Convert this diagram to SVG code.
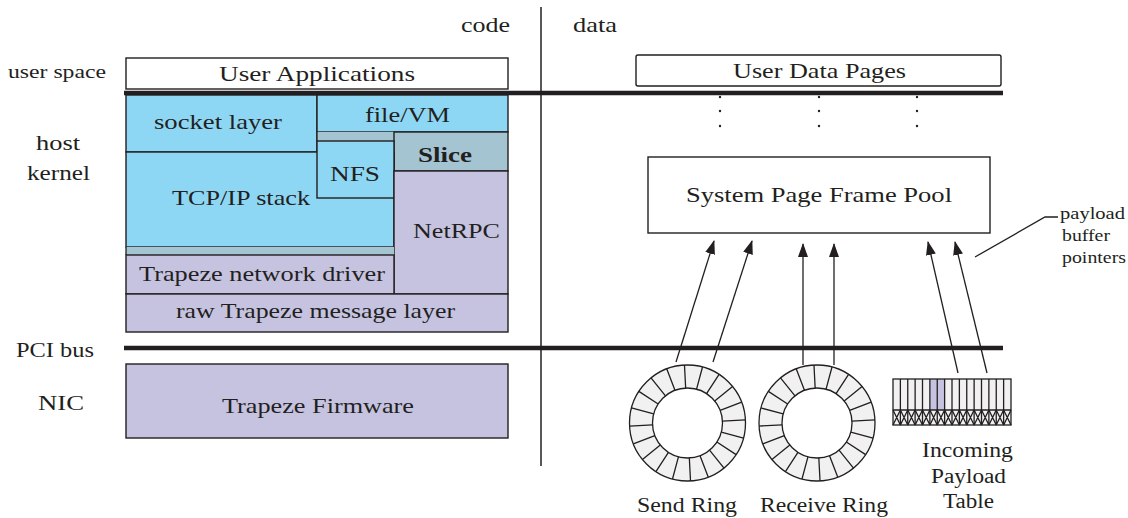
<svg xmlns="http://www.w3.org/2000/svg" width="1128" height="518" viewBox="0 0 1128 518">
<style>
text{font-family:"Liberation Serif","Times New Roman",serif;fill:#231f20}
.box{stroke:#231f20;stroke-width:1.4}
.blue{fill:#8dd7f5}
.grey{fill:#a4c4d2}
.lav{fill:#c6c3e1}
.white{fill:#ffffff}
.bus{stroke:#231f20;stroke-width:4.5}
.thin{stroke:#231f20;stroke-width:1.3;fill:none}
.arrow{stroke:#231f20;stroke-width:1.3;fill:none;marker-end:url(#ah)}
</style>
<defs>
<marker id="ah" viewBox="0 0 14 10" refX="13" refY="5" markerWidth="14" markerHeight="10" markerUnits="userSpaceOnUse" orient="auto">
<path d="M0,0 L14,5 L0,10 z" fill="#231f20"/>
</marker>
<g id="ring">
<circle r="46.5" fill="none" stroke="#f1f1f1" stroke-width="23"/>
<circle r="58" class="thin"/>
<circle r="35" class="thin"/>
<path class="thin" d="M-1.83,-34.95L-3.03,-57.92M9.06,-33.81L15.01,-56.02M19.06,-29.35L31.59,-48.64M27.20,-22.03L45.07,-36.50M32.68,-12.54L54.15,-20.79M34.95,-1.83L57.92,-3.03M33.81,9.06L56.02,15.01M29.35,19.06L48.64,31.59M22.03,27.20L36.50,45.07M12.54,32.68L20.79,54.15M1.83,34.95L3.03,57.92M-9.06,33.81L-15.01,56.02M-19.06,29.35L-31.59,48.64M-27.20,22.03L-45.07,36.50M-32.68,12.54L-54.15,20.79M-34.95,1.83L-57.92,3.03M-33.81,-9.06L-56.02,-15.01M-29.35,-19.06L-48.64,-31.59M-22.03,-27.20L-36.50,-45.07M-12.54,-32.68L-20.79,-54.15"/>
</g>
</defs>
<rect width="1128" height="518" fill="#ffffff"/>

<g id="labels">
<text x="461" y="32" font-size="22" textLength="49" lengthAdjust="spacingAndGlyphs">code</text>
<text x="573" y="32" font-size="22" textLength="44" lengthAdjust="spacingAndGlyphs">data</text>
<text x="8" y="78" font-size="18" textLength="98" lengthAdjust="spacingAndGlyphs">user space</text>
<text x="36" y="150" font-size="20" textLength="44" lengthAdjust="spacingAndGlyphs">host</text>
<text x="27" y="180" font-size="20" textLength="63" lengthAdjust="spacingAndGlyphs">kernel</text>
<text x="16" y="357" font-size="20" textLength="78" lengthAdjust="spacingAndGlyphs">PCI bus</text>
<text x="38" y="410" font-size="20" textLength="46" lengthAdjust="spacingAndGlyphs">NIC</text>
</g>

<line x1="541" y1="7" x2="541" y2="466" stroke="#231f20" stroke-width="1.5"/>

<g id="user-applications">
<rect x="126" y="58" width="382" height="31" class="box white"/>
<text x="219" y="81" font-size="22" textLength="196" lengthAdjust="spacingAndGlyphs">User Applications</text>
</g>
<g id="user-data-pages">
<rect x="636" y="55" width="365" height="31" rx="2" class="box white"/>
<text x="733" y="78" font-size="22" textLength="173" lengthAdjust="spacingAndGlyphs">User Data Pages</text>
</g>

<g id="buses">
<line x1="124" y1="93" x2="1003" y2="93" class="bus"/>
<line x1="124" y1="348" x2="1003" y2="348" class="bus" stroke-width="5"/>
</g>

<g id="dots" fill="#231f20">
<circle cx="720" cy="97" r="1.2"/><circle cx="720" cy="111" r="1.2"/><circle cx="720" cy="126" r="1.2"/>
<circle cx="819" cy="97" r="1.2"/><circle cx="819" cy="111" r="1.2"/><circle cx="819" cy="126" r="1.2"/>
<circle cx="917" cy="97" r="1.2"/><circle cx="917" cy="111" r="1.2"/><circle cx="917" cy="126" r="1.2"/>
</g>

<g id="socket-layer">
<rect x="126" y="95" width="191" height="57" class="box blue"/>
<text x="154" y="129" font-size="21" textLength="128" lengthAdjust="spacingAndGlyphs">socket layer</text>
</g>
<g id="file-vm">
<rect x="317" y="95" width="191" height="37" class="box blue"/>
<text x="365" y="122" font-size="21" textLength="85" lengthAdjust="spacingAndGlyphs">file/VM</text>
</g>
<g id="slice">
<rect x="317" y="132" width="191" height="9" class="grey"/>
<rect x="394" y="132" width="114" height="39" class="box grey"/>
<line x1="317" y1="132" x2="317" y2="141" class="thin"/>
<text x="418" y="162" font-size="21" font-weight="bold" textLength="54" lengthAdjust="spacingAndGlyphs">Slice</text>
</g>
<g id="tcp-ip-stack">
<rect x="126" y="152" width="268" height="95" class="box blue"/>
<text x="172" y="205" font-size="21" textLength="138" lengthAdjust="spacingAndGlyphs">TCP/IP stack</text>
</g>
<g id="nfs">
<rect x="317" y="141" width="77" height="57" class="box blue"/>
<text x="330" y="181" font-size="21" textLength="50" lengthAdjust="spacingAndGlyphs">NFS</text>
</g>
<g id="netrpc">
<rect x="394" y="171" width="114" height="123" class="box lav"/>
<text x="413" y="238" font-size="21" textLength="87" lengthAdjust="spacingAndGlyphs">NetRPC</text>
</g>
<g id="trapeze-network-driver">
<rect x="126" y="247" width="268" height="8" class="grey"/>
<line x1="126" y1="247" x2="126" y2="255" class="thin"/>
<rect x="126" y="255" width="268" height="39" class="box lav"/>
<text x="139" y="281" font-size="21" textLength="246" lengthAdjust="spacingAndGlyphs">Trapeze network driver</text>
</g>
<g id="raw-trapeze-message-layer">
<rect x="126" y="294" width="382" height="38" class="box lav"/>
<text x="176" y="318" font-size="21" textLength="279" lengthAdjust="spacingAndGlyphs">raw Trapeze message layer</text>
</g>
<g id="trapeze-firmware">
<rect x="126" y="364" width="382" height="74" class="box lav"/>
<text x="222" y="413" font-size="21" textLength="192" lengthAdjust="spacingAndGlyphs">Trapeze Firmware</text>
</g>

<g id="system-page-frame-pool">
<rect x="648" y="157" width="342" height="76" class="box white"/>
<text x="686" y="202" font-size="21" textLength="266" lengthAdjust="spacingAndGlyphs">System Page Frame Pool</text>
</g>

<g id="send-ring">
<use href="#ring" x="687.5" y="423"/>
<text x="637" y="512" font-size="20" textLength="100" lengthAdjust="spacingAndGlyphs">Send Ring</text>
</g>
<g id="receive-ring">
<use href="#ring" x="817" y="423"/>
<text x="760" y="512" font-size="20" textLength="128" lengthAdjust="spacingAndGlyphs">Receive Ring</text>
</g>

<g id="incoming-payload-table">
<rect x="893" y="379" width="118" height="46" fill="#f1f1f1"/>
<rect x="929.875" y="379" width="14.75" height="31" class="lav"/>
<rect x="893" y="379" width="118" height="46" class="thin"/>
<line x1="893" y1="410" x2="1011" y2="410" class="thin"/>
<path class="thin" stroke-width="1" d="M900.375,379V425M907.75,379V425M915.125,379V425M922.5,379V425M929.875,379V425M937.25,379V425M944.625,379V425M952,379V425M959.375,379V425M966.75,379V425M974.125,379V425M981.5,379V425M988.875,379V425M996.25,379V425M1003.625,379V425"/>
<path class="thin" stroke-width="0.9" d="M893,410L900.375,425M893,425L900.375,410M900.375,410L907.75,425M900.375,425L907.75,410M907.75,410L915.125,425M907.75,425L915.125,410M915.125,410L922.5,425M915.125,425L922.5,410M922.5,410L929.875,425M922.5,425L929.875,410M929.875,410L937.25,425M929.875,425L937.25,410M937.25,410L944.625,425M937.25,425L944.625,410M944.625,410L952,425M944.625,425L952,410M952,410L959.375,425M952,425L959.375,410M959.375,410L966.75,425M959.375,425L966.75,410M966.75,410L974.125,425M966.75,425L974.125,410M974.125,410L981.5,425M974.125,425L981.5,410M981.5,410L988.875,425M981.5,425L988.875,410M988.875,410L996.25,425M988.875,425L996.25,410M996.25,410L1003.625,425M996.25,425L1003.625,410M1003.625,410L1011,425M1003.625,425L1011,410"/>
<text x="922" y="457" font-size="20" textLength="91" lengthAdjust="spacingAndGlyphs">Incoming</text>
<text x="931" y="483" font-size="20" textLength="75" lengthAdjust="spacingAndGlyphs">Payload</text>
<text x="943" y="508" font-size="20" textLength="51" lengthAdjust="spacingAndGlyphs">Table</text>
</g>

<g id="payload-buffer-pointers">
<polyline points="975,257 1045,217 1058,217" class="thin" stroke-width="1"/>
<text x="1060" y="219" font-size="17" textLength="65" lengthAdjust="spacingAndGlyphs">payload</text>
<text x="1062" y="241" font-size="17" textLength="48" lengthAdjust="spacingAndGlyphs">buffer</text>
<text x="1062" y="263" font-size="17" textLength="64" lengthAdjust="spacingAndGlyphs">pointers</text>
</g>

<g id="connectors">
<line x1="676" y1="362" x2="714" y2="241" class="arrow"/>
<line x1="713" y1="362" x2="752" y2="241" class="arrow"/>
<line x1="803" y1="365" x2="803" y2="244" class="arrow"/>
<line x1="834" y1="365" x2="834" y2="244" class="arrow"/>
<line x1="958" y1="373" x2="928" y2="242" class="arrow"/>
<line x1="987" y1="373" x2="955" y2="242" class="arrow"/>
</g>
</svg>
